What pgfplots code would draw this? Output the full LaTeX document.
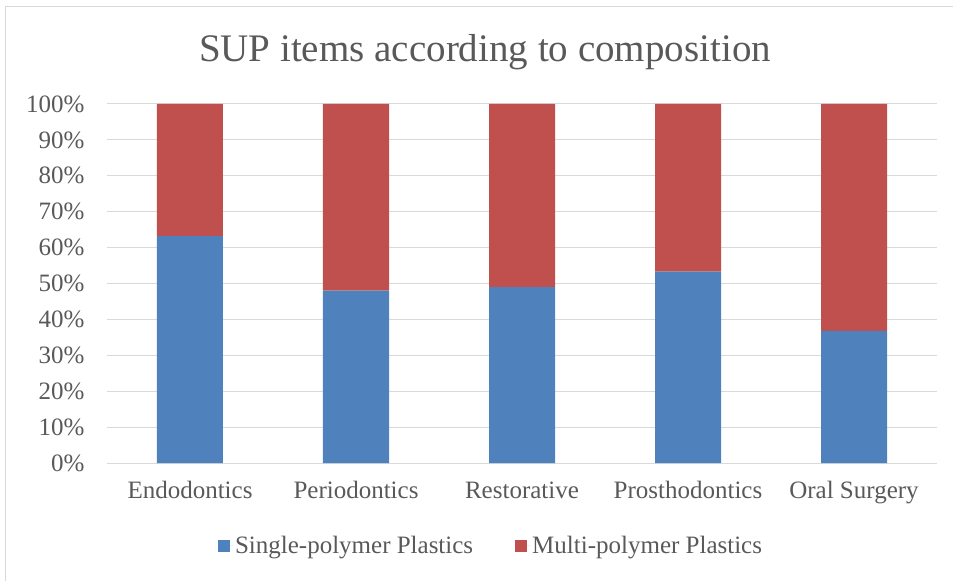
\documentclass[border=0pt]{standalone}
\usepackage{fontspec}
\setmainfont{Liberation Serif}
\usepackage{pgfplots}
\pgfplotsset{compat=1.18}

\definecolor{singleblue}{HTML}{4F81BD}
\definecolor{multired}{HTML}{C0504D}
\definecolor{txtgray}{HTML}{595959}
\definecolor{gridgray}{HTML}{D9D9D9}

\begin{document}
\begin{tikzpicture}
  % chart area: one pt per pixel of the reference
  \useasboundingbox (-107pt,-118pt) rectangle (846pt,463pt);
  \draw[gridgray, line width=1pt] (-101pt,-118pt) -- (-101pt,456pt) -- (846pt,456pt);

  \begin{axis}[
    at={(0pt,0pt)}, anchor=south west,
    width=830pt, height=359pt, scale only axis,
    ybar stacked,
    bar width=66pt,
    xmin=-0.5, xmax=4.5,
    ymin=0, ymax=100,
    enlargelimits=false,
    xtick=data,
    xticklabels={Endodontics, Periodontics, Restorative, Prosthodontics, Oral Surgery},
    ytick={0,10,...,100},
    yticklabel={\pgfmathprintnumber{\tick}\%},
    /pgf/number format/assume math mode=true,
    ymajorgrids,
    grid style={gridgray, line width=1pt},
    axis x line*=bottom,
    axis y line*=left,
    y axis line style={draw=none},
    x axis line style={gridgray, line width=1pt, -},
    major tick length=0pt,
    tick label style={font=\fontsize{25}{29}\selectfont, text=txtgray},
    yticklabel style={anchor=east, xshift=-19pt},
    xticklabel style={anchor=center, text height=17pt, text depth=6pt, yshift=-30pt},
    legend style={
      at={(0.4627,-0.231)}, anchor=center,
      draw=none, fill=none,
      font=\fontsize{25}{29}\selectfont, text=txtgray,
      legend columns=2,
      /tikz/every even column/.append style={column sep=40pt},
      inner sep=0pt,
    },
    legend image code/.code={\fill[#1, draw=none] (0pt,-6pt) rectangle (12pt,6pt);
      \path (0pt,0pt) -- (15pt,0pt);},
    legend cell align=left,
  ]
    \addplot[fill=singleblue, draw=none] coordinates {(0,63.2) (1,48.0) (2,49.0) (3,53.3) (4,36.8)};
    \addplot[fill=multired, draw=none] coordinates {(0,36.8) (1,52.0) (2,51.0) (3,46.7) (4,63.2)};
    \addlegendentry{Single-polymer Plastics}
    \addlegendentry{Multi-polymer Plastics}
  \end{axis}

  \node[text=txtgray, font=\fontsize{39}{45}\selectfont, anchor=center] at (378pt,411pt) {SUP items according to composition};
\end{tikzpicture}
\end{document}
